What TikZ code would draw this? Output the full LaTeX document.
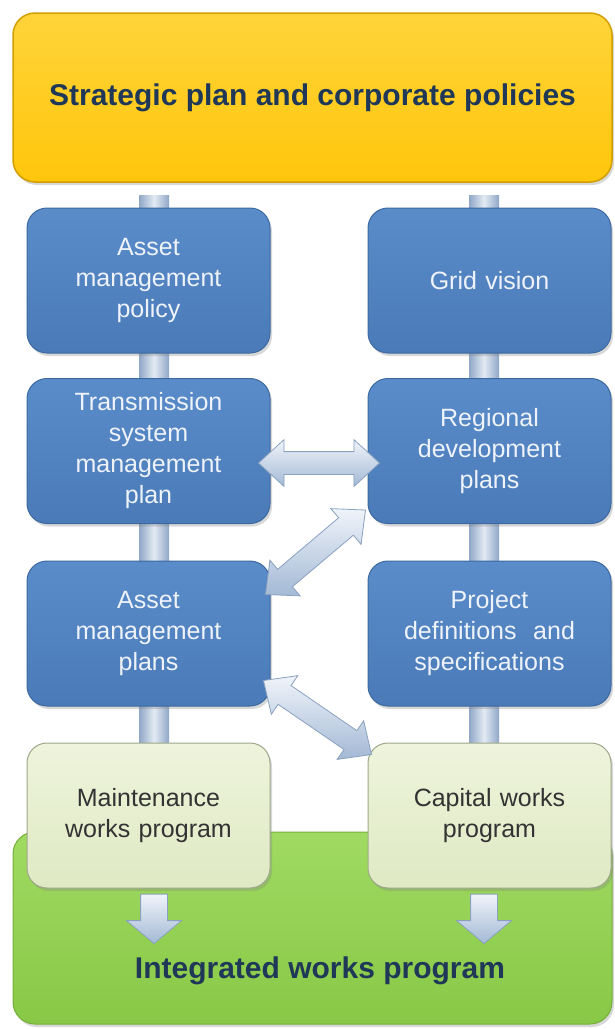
\documentclass[tikz,border=0pt]{standalone}
\usepackage{fontspec}
\setmainfont{Liberation Sans}
\usetikzlibrary{shapes, shapes.arrows, calc, positioning, shadows}

\definecolor{bannergold}{HTML}{FFC60B}
\definecolor{bannertop}{HTML}{FFD43A}
\definecolor{banneredge}{HTML}{D39E00}
\definecolor{titleink}{HTML}{1F3857}
\definecolor{planbot}{HTML}{4A7BB8}
\definecolor{plantop}{HTML}{5B8CCA}
\definecolor{planedge}{HTML}{3C69A0}
\definecolor{planink}{HTML}{EEF3FA}
\definecolor{paletop}{HTML}{EEF4DC}
\definecolor{palebot}{HTML}{DFE9C3}
\definecolor{paleedge}{HTML}{9EA78B}
\definecolor{paleink}{HTML}{333333}
\definecolor{bandtop}{HTML}{A0DA62}
\definecolor{bandbot}{HTML}{88C846}
\definecolor{bandedge}{HTML}{76AE3C}
\definecolor{linktop}{HTML}{F0F4FA}
\definecolor{linkbot}{HTML}{A3B9D5}
\definecolor{linkedge}{HTML}{8AA1BF}
\definecolor{barmid}{HTML}{E3EAF3}
\definecolor{baredge}{HTML}{8FA7C7}

\pgfdeclarelayer{back}
\pgfdeclarelayer{bars}
\pgfsetlayers{back,bars,main}

% double or single block arrow laid between two points
\newcommand{\blockarrow}[3]{%
    \path let \p1 = ($(#3)-(#2)$), \n1 = {atan2(\y1,\x1)}, \n2 = {veclen(\x1,\y1)} in
        ($(#2)!0.5!(#3)$) node[#1, minimum height=\n2, rotate=\n1] {};
}

\begin{document}
\begin{tikzpicture}[x=1pt, y=-1pt,
    shade/.style={drop shadow={shadow xshift=2pt, shadow yshift=-3pt, opacity=0.3}},
    plan/.style={rectangle, rounded corners=20pt, minimum width=243pt, minimum height=145pt,
        text width=225pt, align=center, inner sep=0pt, font=\fontsize{25}{31}\selectfont, shade},
    bluebox/.style={plan, draw=planedge, line width=1pt, top color=plantop, bottom color=planbot, text=planink},
    palebox/.style={plan, draw=paleedge, line width=1pt, top color=paletop, bottom color=palebot, text=paleink},
    heading/.style={font=\fontsize{30}{36}\selectfont\bfseries, text=titleink},
    link/.style={double arrow, draw=linkedge, line width=0.8pt, top color=linktop, bottom color=linkbot,
        inner xsep=0pt, inner ysep=11pt, double arrow head extend=12pt, double arrow tip angle=85},
    flow/.style={single arrow, draw=linkedge, line width=0.8pt, top color=linktop, bottom color=linkbot,
        inner xsep=0pt, inner ysep=13pt, single arrow head extend=14pt, single arrow tip angle=100},
    bar/.style={left color=baredge, right color=baredge, middle color=barmid}]

    \begin{pgfonlayer}{back}
        \path[use as bounding box, fill=white] (0,0) rectangle (614,1029);
    \end{pgfonlayer}

    \coordinate (lcol) at (154,0);
    \coordinate (rcol) at (484,0);

    % green band at the bottom
    \path (312.5, 928) node[rectangle, rounded corners=22pt, minimum width=599pt, minimum height=192pt,
        draw=bandedge, line width=1pt, top color=bandtop, bottom color=bandbot, shade] (iwp) {};
    \path (320, 971) node[heading] (iwp-label) {Integrated works program};

    % banner on top
    \path (312.5, 97.5) node[rectangle, rounded corners=22pt, minimum width=599pt, minimum height=169pt,
        draw=banneredge, line width=1.5pt, top color=bannertop, bottom color=bannergold, shade,
        heading] (top) {Strategic plan and corporate policies};

    % left column
    \path (148.5, 280.5) node[bluebox] (amp)  {Asset\\management\\policy};
    \path (148.5, 451)   node[bluebox] (tsmp) {Transmission\\system\\management\\plan};
    \path (148.5, 633.5) node[bluebox] (ampl) {Asset\\management\\plans};
    \path (148.5, 815.5) node[palebox] (mwp)  {Maintenance\\works program};

    % right column
    \path (489.5, 280.5) node[bluebox] (gv)  {Grid vision};
    \path (489.5, 451)   node[bluebox] (rdp) {Regional\\development\\plans};
    \path (489.5, 633.5) node[bluebox] (pds) {Project\\definitions~ and\\specifications};
    \path (489.5, 815.5) node[palebox] (cwp) {Capital works\\program};

    % spines behind the columns
    \begin{pgfonlayer}{bars}
        \fill[bar] ($(top.south -| lcol)+(-15,13)$) rectangle ($(mwp.north -| lcol)+(15,0)$);
        \fill[bar] ($(top.south -| rcol)+(-15,13)$) rectangle ($(cwp.north -| rcol)+(15,0)$);
    \end{pgfonlayer}

    % links between the columns
    \blockarrow{link}{$(tsmp.east)+(-12,12)$}{$(rdp.west)+(12,12)$}
    \blockarrow{link}{$(ampl.north east)+(-5,34)$}{$(rdp.south west)+(-2,-14)$}
    \blockarrow{link}{$(ampl.south east)+(-7,-26)$}{$(cwp.north west)+(4,12)$}

    % feeds into the works program
    \coordinate (mwp-in) at (mwp.south -| lcol);
    \coordinate (cwp-in) at (cwp.south -| rcol);
    \coordinate (mwp-out) at (154, 938);
    \coordinate (cwp-out) at (484, 938);
    \blockarrow{flow}{mwp-in}{mwp-out}
    \blockarrow{flow}{cwp-in}{cwp-out}
\end{tikzpicture}
\end{document}
